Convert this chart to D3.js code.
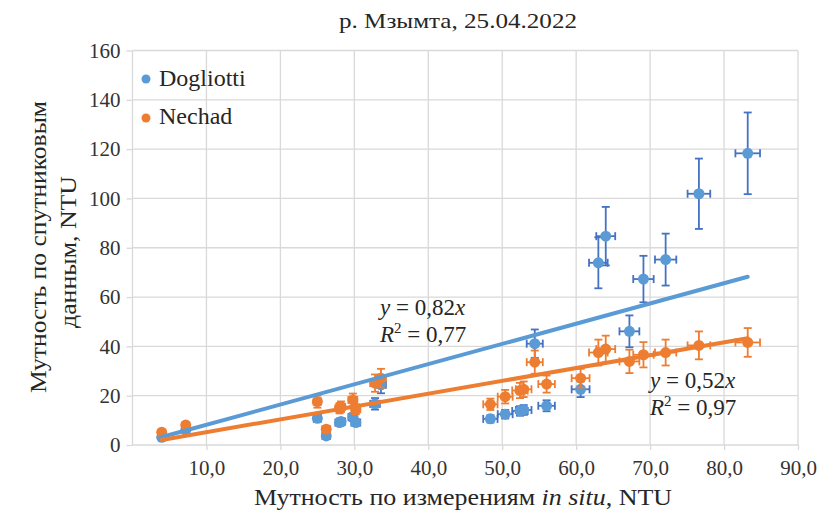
<!DOCTYPE html>
<html>
<head>
<meta charset="utf-8">
<script src="https://cdn.jsdelivr.net/npm/d3@7"></script>
<style>
  body { margin: 0; background: #fff; }
  text { font-family: "Liberation Serif", "Times New Roman", serif; fill: #262626; }
  .grid line { stroke: #d9d9d9; stroke-width: 1.3; }
  .axis path { display: none; }
  .axis line { stroke: #d9d9d9; stroke-width: 1.3; }
  .axis text { font-family: "Liberation Serif", "Times New Roman", serif; font-size: 21px; fill: #333; }
</style>
</head>
<body>
<div id="chart"></div>
<script>
var wd = 833;
var ht = 513;
var margin = { top: 50.5, right: 35, bottom: 68, left: 132.5 };

// in situ turbidity (shared by both series), NTU
var inSitu = [3.95, 7.2, 25.0, 26.2, 28.0, 28.2, 29.8, 30.2, 32.8, 33.6, 48.4, 50.4, 52.4, 52.9,
              54.4, 56.0, 60.6, 63.0, 64.0, 67.2, 69.1, 72.1, 76.6, 83.2];
var dogliotti = [3.1, 6.0, 10.8, 3.7, 9.1, 9.5, 11.3, 9.1, 16.7, 24.4, 10.6, 12.5, 13.8, 14.2,
                 41.1, 15.9, 22.6, 73.9, 84.7, 46.1, 67.3, 75.2, 101.9, 118.3];
var nechad = [5.2, 8.1, 17.6, 6.4, 14.9, 15.5, 18.3, 14.5, 25.1, 27.1, 16.5, 19.6, 22.1, 22.6,
              33.6, 24.7, 27.1, 37.5, 38.9, 33.9, 36.6, 37.5, 40.4, 41.6];
// percentage error bars
var errX = 0.02;
var errY = 0.14;
// trendline slopes (through origin)
var slopes = { Dogliotti: 0.82, Nechad: 0.52 };
var r2 = { Dogliotti: "0,77", Nechad: "0,97" };

var xTicks = [10, 20, 30, 40, 50, 60, 70, 80, 90];
var yTicks = [0, 20, 40, 60, 80, 100, 120, 140, 160];

var series = [
  { name: "Dogliotti", values: dogliotti, fill: "#5b9bd5", err: "#4472c4", line: "#5b9bd5" },
  { name: "Nechad", values: nechad, fill: "#ed7d31", err: "#ed7d31", line: "#ed7d31" }
];

var svg = d3.select("#chart").append("svg").attr("width", wd).attr("height", ht);

var xScale = d3.scaleLinear().domain([0, 90]).range([margin.left, wd - margin.right]);
var yScale = d3.scaleLinear().domain([0, 160]).range([ht - margin.bottom, margin.top]);

// grid
var grid = svg.append("g").attr("class", "grid");
grid.selectAll("line.v").data([0].concat(xTicks)).enter().append("line")
    .attr("x1", function(d) { return xScale(d); }).attr("x2", function(d) { return xScale(d); })
    .attr("y1", yScale(160)).attr("y2", yScale(0));
grid.selectAll("line.h").data(yTicks).enter().append("line")
    .attr("x1", xScale(0)).attr("x2", xScale(90))
    .attr("y1", function(d) { return yScale(d); }).attr("y2", function(d) { return yScale(d); });

var xAxis = d3.axisBottom(xScale).tickValues(xTicks).tickSize(5)
              .tickFormat(function(d) { return d3.format(".1f")(d).replace(".", ","); });
var yAxis = d3.axisLeft(yScale).tickValues(yTicks).tickSize(6).tickPadding(6);

svg.append("g").attr("class", "axis x").attr("transform", "translate(0," + yScale(0) + ")").call(xAxis);
svg.append("g").attr("class", "axis y").attr("transform", "translate(" + xScale(0) + ",0)").call(yAxis);
svg.selectAll(".axis.x .tick text").attr("y", 30).attr("dy", 0);

// points with error bars
series.forEach(function(s)
{
  var pts = inSitu.map(function(x, i) { return { x: x, y: s.values[i] }; });
  var g = svg.append("g").attr("class", "series");
  var cap = 4;
  var eb = g.selectAll("g.eb").data(pts).enter().append("g")
            .attr("stroke", s.err).attr("stroke-width", 1.8).attr("fill", "none");
  eb.append("line")
    .attr("x1", function(d) { return xScale(d.x); }).attr("x2", function(d) { return xScale(d.x); })
    .attr("y1", function(d) { return yScale(d.y * (1 + errY)); })
    .attr("y2", function(d) { return yScale(d.y * (1 - errY)); });
  eb.append("line")
    .attr("x1", function(d) { return xScale(d.x) - cap; }).attr("x2", function(d) { return xScale(d.x) + cap; })
    .attr("y1", function(d) { return yScale(d.y * (1 + errY)); })
    .attr("y2", function(d) { return yScale(d.y * (1 + errY)); });
  eb.append("line")
    .attr("x1", function(d) { return xScale(d.x) - cap; }).attr("x2", function(d) { return xScale(d.x) + cap; })
    .attr("y1", function(d) { return yScale(d.y * (1 - errY)); })
    .attr("y2", function(d) { return yScale(d.y * (1 - errY)); });
  eb.append("line")
    .attr("x1", function(d) { return xScale(d.x * (1 - errX)); })
    .attr("x2", function(d) { return xScale(d.x * (1 + errX)); })
    .attr("y1", function(d) { return yScale(d.y); }).attr("y2", function(d) { return yScale(d.y); });
  eb.append("line")
    .attr("x1", function(d) { return xScale(d.x * (1 - errX)); })
    .attr("x2", function(d) { return xScale(d.x * (1 - errX)); })
    .attr("y1", function(d) { return yScale(d.y) - cap; }).attr("y2", function(d) { return yScale(d.y) + cap; });
  eb.append("line")
    .attr("x1", function(d) { return xScale(d.x * (1 + errX)); })
    .attr("x2", function(d) { return xScale(d.x * (1 + errX)); })
    .attr("y1", function(d) { return yScale(d.y) - cap; }).attr("y2", function(d) { return yScale(d.y) + cap; });

  g.selectAll("circle").data(pts).enter().append("circle")
   .attr("cx", function(d) { return xScale(d.x); })
   .attr("cy", function(d) { return yScale(d.y); })
   .attr("r", 5.5)
   .attr("fill", s.fill);
});

// trendlines
var xMin = d3.min(inSitu), xMax = d3.max(inSitu);
series.forEach(function(s)
{
  var k = slopes[s.name];
  svg.append("line")
     .attr("x1", xScale(xMin)).attr("y1", yScale(k * xMin))
     .attr("x2", xScale(xMax)).attr("y2", yScale(k * xMax))
     .attr("stroke", s.line).attr("stroke-width", 4).attr("stroke-linecap", "round");
});

// equations
function equation(x, y, name)
{
  var t1 = svg.append("text").attr("x", x).attr("y", y).style("font-size", "23px");
  t1.append("tspan").style("font-style", "italic").text("y");
  t1.append("tspan").text(" = " + String(slopes[name]).replace(".", ","));
  t1.append("tspan").style("font-style", "italic").text("x");
  var t2 = svg.append("text").attr("x", x).attr("y", y + 27).style("font-size", "23px");
  t2.append("tspan").style("font-style", "italic").text("R");
  t2.append("tspan").attr("dy", -9).style("font-size", "15px").text("2");
  t2.append("tspan").attr("dy", 9).text(" = " + r2[name]);
}
equation(380, 315, "Dogliotti");
equation(650, 388, "Nechad");

// legend
var lg = svg.append("g").attr("class", "legend");
series.forEach(function(s, i)
{
  lg.append("circle").attr("cx", 146).attr("cy", 79 + i * 39).attr("r", 4.5).attr("fill", s.fill);
  lg.append("text").attr("x", 159).attr("y", 86 + i * 38).style("font-size", "24px").text(s.name);
});

// titles
svg.append("text").attr("x", 458).attr("y", 28).attr("text-anchor", "middle")
   .attr("textLength", 238).attr("lengthAdjust", "spacingAndGlyphs")
   .style("font-size", "22px").text("р. Мзымта, 25.04.2022");

var xt = svg.append("text").attr("x", 463).attr("y", 505).attr("text-anchor", "middle")
   .attr("textLength", 418).attr("lengthAdjust", "spacingAndGlyphs").style("font-size", "24px");
xt.append("tspan").text("Мутность по измерениям ");
xt.append("tspan").style("font-style", "italic").text("in situ");
xt.append("tspan").text(", NTU");

svg.append("text").attr("text-anchor", "middle")
   .attr("transform", "translate(46,247) rotate(-90)")
   .attr("textLength", 292).attr("lengthAdjust", "spacingAndGlyphs")
   .style("font-size", "24px").text("Мутность по спутниковым");
svg.append("text").attr("text-anchor", "middle")
   .attr("transform", "translate(76,252) rotate(-90)")
   .attr("textLength", 152).attr("lengthAdjust", "spacingAndGlyphs")
   .style("font-size", "24px").text("данным, NTU");
</script>
</body>
</html>
